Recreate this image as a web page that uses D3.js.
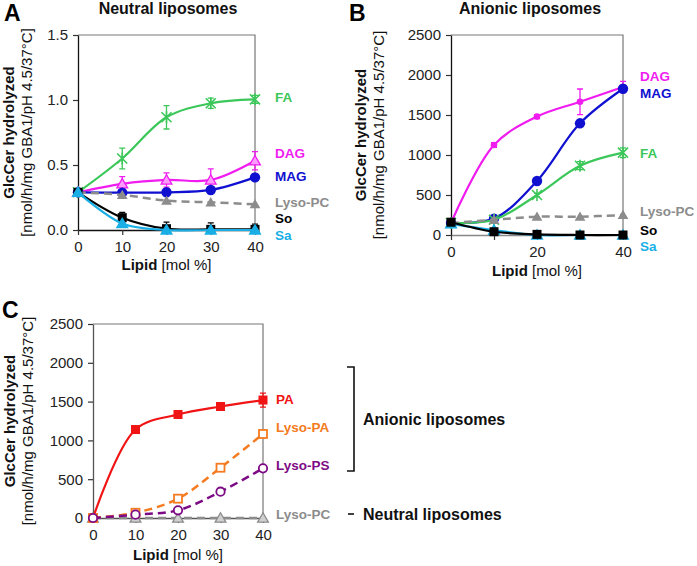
<!DOCTYPE html>
<html><head><meta charset="utf-8">
<script src="https://cdn.jsdelivr.net/npm/d3@7"></script>
<style>
html,body{margin:0;padding:0;background:#fff;}
svg text{font-family:Arial,"Liberation Sans",sans-serif;}
</style></head>
<body><svg id="chart" width="697" height="566"></svg>
<script>
// ---------- DATA ----------
const lipid = [0, 10, 20, 30, 40];

// Panel A: Neutral liposomes
const faA      = [0.29, 0.55, 0.867, 0.975, 1.005];
const faAErr   = [0.01, 0.08, 0.09, 0.04, 0.03];
const dagA     = [0.29, 0.355, 0.385, 0.385, 0.533];
const dagAErr  = [0.01, 0.055, 0.055, 0.085, 0.07];
const magA     = [0.29, 0.287, 0.29, 0.308, 0.405];
const magAErr  = [0.01, 0.02, 0.02, 0.02, 0.02];
const lysoPCA  = [0.29, 0.27, 0.226, 0.213, 0.198];
const soA      = [0.29, 0.095, 0.01, 0.005, 0.005];
const soAErr   = [0.02, 0.04, 0.05, 0.05, 0.04];
const saA      = [0.29, 0.05, 0.0, 0.0, 0.0];

// Panel B: Anionic liposomes
const dagB     = [150, 1125, 1480, 1665, 1850];
const dagBErr  = [0, 30, 25, 160, 70];
const magB     = [150, 205, 675, 1396, 1828];
const magBErr  = [0, 20, 20, 20, 40];
const faB      = [150, 190, 500, 866, 1029];
const faBErr   = [0, 20, 20, 50, 60];
const lysoPCB  = [150, 190, 229, 229, 250];
const soB      = [160, 41, 8, 0, 0];
const saB      = [140, 60, 0, 0, 0];

// Panel C
const paC      = [0, 1140, 1334, 1437, 1520];
const paCErr   = [0, 30, 30, 30, 90];
const lysoPAC  = [0, 68, 249, 648, 1083];
const lysoPSC  = [0, 43, 99, 339, 640];
const lysoPCC  = [0, 0, 0, 0, 0];

const ticksA = [0, 0.5, 1.0, 1.5];
const ticksBC = [0, 500, 1000, 1500, 2000, 2500];

// ---------- DRAW ----------
const svg = d3.select("#chart");
const C = {fa:"#3cc75a", dag:"#f01cf0", mag:"#1010d0", lpc:"#8c8c8c", so:"#000000",
           sa:"#19afe6", pa:"#f01414", lpa:"#f47b20", lps:"#7d0a85"};

function marker(g, type, x, y, color) {
  if (type === "circle" || type === "dot") {
    g.append("circle").attr("cx", x).attr("cy", y).attr("r", type === "dot" ? 3.3 : 5.2).attr("fill", color);
  } else if (type === "ocircle") {
    g.append("circle").attr("cx", x).attr("cy", y).attr("r", 4.2).attr("fill", "#fff").attr("stroke", color).attr("stroke-width", 1.8);
  } else if (type === "square") {
    g.append("rect").attr("x", x - 4.5).attr("y", y - 4.5).attr("width", 9).attr("height", 9).attr("fill", color);
  } else if (type === "osquare") {
    g.append("rect").attr("x", x - 4).attr("y", y - 4).attr("width", 8).attr("height", 8).attr("fill", "#fff").attr("stroke", color).attr("stroke-width", 1.8);
  } else if (type === "tri" || type === "bigtri" || type === "ltri" || type === "otri") {
    const s = type === "bigtri" ? 75 : 50;
    g.append("path").attr("d", d3.symbol(d3.symbolTriangle, s)())
      .attr("transform", `translate(${x},${y + 1})`)
      .attr("fill", type === "ltri" ? "#ff9cff" : (type === "otri" ? "#d0d0d0" : color))
      .attr("stroke", color).attr("stroke-width", type === "tri" || type === "bigtri" ? 0 : 1.3);
  } else if (type === "star") {
    const r = 5;
    g.append("path").attr("d", `M${x - r},${y - r}L${x + r},${y + r}M${x - r},${y + r}L${x + r},${y - r}M${x},${y - r - 1}L${x},${y + r + 1}`)
      .attr("stroke", color).attr("stroke-width", 1.6).attr("fill", "none");
  }
}

function panel(cfg) {
  const g = svg.append("g");
  const x = d3.scaleLinear().domain([0, 40]).range(cfg.xr);
  const y = d3.scaleLinear().domain(cfg.yd).range(cfg.yr);
  // frame
  g.append("path").attr("d", `M${x(0)},${y(cfg.yd[1])}H${x(40)}V${y(0)}`)
    .attr("fill", "none").attr("stroke", "#777").attr("stroke-width", 1.2);
  // axes
  const ya = g.append("g").attr("transform", `translate(${x(0)},0)`)
    .call(d3.axisLeft(y).tickValues(cfg.yticks).tickSize(5).tickSizeOuter(0).tickFormat(cfg.yfmt));
  const xa = g.append("g").attr("transform", `translate(0,${y(0)})`)
    .call(d3.axisBottom(x).tickValues(lipid).tickSize(5).tickSizeOuter(0)
      .tickFormat(d => cfg.xlabels.includes(d) ? d : ""));
  [ya, xa].forEach(a => {
    a.selectAll("text").attr("font-size", 15).attr("fill", "#222");
    a.selectAll("line").attr("stroke", "#333").attr("stroke-width", 1.2);
  });
  ya.select(".domain").attr("stroke", cfg.ycol || "#111").attr("stroke-width", 1.3);
  xa.select(".domain").attr("stroke", cfg.xcol || "#111").attr("stroke-width", 1.3);
  ya.selectAll("text").attr("dx", "-2");
  xa.selectAll("text").attr("dy", "0.95em");

  // series
  const line = d3.line().x((d, i) => x(lipid[i])).y(d => y(d)).curve(d3.curveCatmullRom.alpha(0.5));
  cfg.series.forEach(s => {
    const sg = g.append("g");
    sg.append("path").attr("d", line(s.v)).attr("fill", "none").attr("stroke", s.c)
      .attr("stroke-width", s.dash ? 2.5 : 2.2).attr("stroke-dasharray", s.dash ? "8,5" : null);
    if (s.e) s.v.forEach((v, i) => {
      if (!s.e[i]) return;
      const xx = x(lipid[i]), y1 = y(v + s.e[i]), y2 = y(Math.max(cfg.yd[0], v - s.e[i]));
      sg.append("path").attr("d", `M${xx},${y1}V${y2}M${xx - 3},${y1}H${xx + 3}M${xx - 3},${y2}H${xx + 3}`)
        .attr("stroke", s.c).attr("stroke-width", 1.3).attr("fill", "none");
    });
    s.v.forEach((v, i) => marker(sg, s.m, x(lipid[i]), y(v), s.c));
  });
  // series labels
  cfg.series.forEach(s => {
    g.append("text").attr("x", x(40) + cfg.lx).attr("y", y(s.ly)).attr("dy", "0.35em")
      .attr("font-size", 13.5).attr("font-weight", "bold").attr("fill", s.lc || s.c).text(s.name);
  });
  // x title
  const xt = g.append("text").attr("x", (cfg.xr[0] + cfg.xr[1]) / 2).attr("y", y(0) + cfg.xty)
    .attr("text-anchor", "middle").attr("font-size", 15).attr("fill", "#111");
  xt.append("tspan").attr("font-weight", "bold").text("Lipid");
  xt.append("tspan").text(" [mol %]");
  // y title
  const cy = (cfg.yr[0] + cfg.yr[1]) / 2;
  g.append("text").attr("transform", `translate(${cfg.ytx},${cy}) rotate(-90)`).attr("text-anchor", "middle")
    .attr("font-size", 15).attr("font-weight", "bold").attr("fill", "#111").text("GlcCer hydrolyzed");
  g.append("text").attr("transform", `translate(${cfg.ytx + 18},${cy}) rotate(-90)`).attr("text-anchor", "middle")
    .attr("font-size", 15).attr("fill", "#111").text("[nmol/h/mg GBA1/pH 4.5/37°C]");
  // panel title
  if (cfg.title) g.append("text").attr("x", cfg.title[1]).attr("y", 14).attr("text-anchor", "middle")
    .attr("font-size", 16).attr("font-weight", "bold").attr("fill", "#111").text(cfg.title[0]);
  g.append("text").attr("x", cfg.letter[1]).attr("y", cfg.letter[2]).attr("font-size", 23)
    .attr("font-weight", "bold").attr("fill", "#000").text(cfg.letter[0]);
}

panel({
  xr: [78, 255], yd: [0, 1.5], yr: [230, 35], yticks: ticksA, yfmt: d3.format(".1f"),
  xlabels: lipid, lx: 20, xty: 40, ytx: 14, title: ["Neutral liposomes", 168], letter: ["A", 4, 21],
  series: [
    {name: "FA", v: faA, e: faAErr, c: C.fa, m: "star", ly: 1.02},
    {name: "DAG", v: dagA, e: dagAErr, c: C.dag, m: "ltri", ly: 0.59},
    {name: "MAG", v: magA, e: magAErr, c: C.mag, m: "circle", ly: 0.415},
    {name: "Lyso-PC", v: lysoPCA, c: C.lpc, m: "tri", dash: true, ly: 0.21},
    {name: "So", v: soA, e: soAErr, c: C.so, m: "square", ly: 0.088},
    {name: "Sa", v: saA, c: C.sa, m: "bigtri", ly: -0.04}
  ]
});

panel({
  xr: [451, 623], yd: [0, 2500], yr: [235, 35], yticks: ticksBC, yfmt: d3.format("d"),
  xlabels: [0, 20, 40], xcol: "#888", lx: 17, xty: 41, ytx: 366, title: ["Anionic liposomes", 530], letter: ["B", 349, 21],
  series: [
    {name: "DAG", v: dagB, e: dagBErr, c: C.dag, m: "dot", ly: 1979},
    {name: "MAG", v: magB, e: magBErr, c: C.mag, m: "circle", ly: 1775},
    {name: "FA", v: faB, e: faBErr, c: C.fa, m: "star", ly: 1025},
    {name: "Lyso-PC", v: lysoPCB, c: C.lpc, m: "tri", dash: true, ly: 295},
    {name: "Sa", v: saB, c: C.sa, m: "bigtri", ly: -140},
    {name: "So", v: soB, c: C.so, m: "square", ly: 65}
  ]
});

panel({
  xr: [93, 263], yd: [0, 2500], yr: [518, 324], yticks: ticksBC, yfmt: d3.format("d"),
  xlabels: lipid, ycol: "#555", xcol: "#555", lx: 13, xty: 42, ytx: 15, title: null, letter: ["C", 2, 318],
  series: [
    {name: "Lyso-PC", v: lysoPCC, c: C.lpc, m: "otri", dash: true, ly: 52},
    {name: "PA", v: paC, e: paCErr, c: C.pa, m: "square", ly: 1534},
    {name: "Lyso-PA", v: lysoPAC, c: C.lpa, m: "osquare", dash: true, ly: 1173},
    {name: "Lyso-PS", v: lysoPSC, c: C.lps, m: "ocircle", dash: true, ly: 683}
  ]
});

// bracket & group labels
svg.append("path").attr("d", "M347,367H354V471H347").attr("fill", "none").attr("stroke", "#111").attr("stroke-width", 1.6);
svg.append("text").attr("x", 363).attr("y", 419).attr("dy", "0.35em").attr("font-size", 16)
  .attr("font-weight", "bold").attr("fill", "#111").text("Anionic liposomes");
svg.append("path").attr("d", "M348,514H354").attr("stroke", "#111").attr("stroke-width", 1.6);
svg.append("text").attr("x", 363).attr("y", 514).attr("dy", "0.35em").attr("font-size", 16)
  .attr("font-weight", "bold").attr("fill", "#111").text("Neutral liposomes");
</script></body></html>
